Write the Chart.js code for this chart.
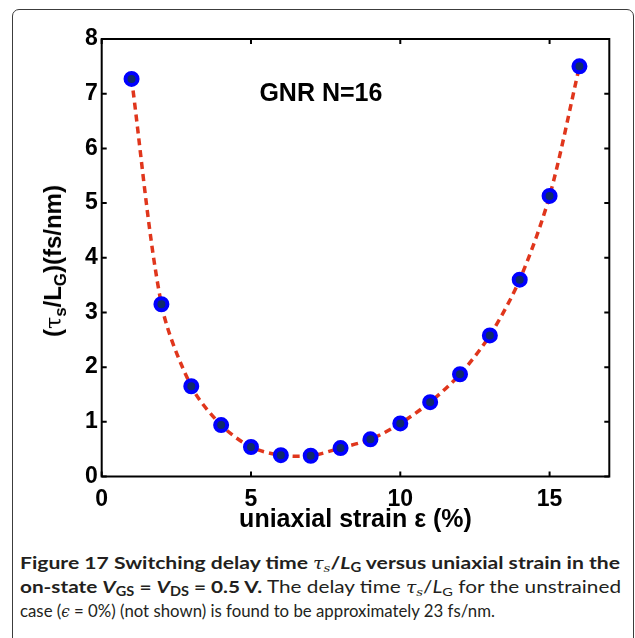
<!DOCTYPE html>
<html>
<head>
<meta charset="utf-8">
<script src="https://cdn.jsdelivr.net/npm/chart.js@4.4.1/dist/chart.umd.min.js"></script>
<style>
  html, body { margin: 0; padding: 0; background: #fff; }
  body { width: 635px; height: 638px; position: relative; overflow: hidden; font-family: "Liberation Sans", Arial, sans-serif; }
  #frame { position: absolute; left: 12px; top: 9px; width: 622px; height: 720px; border: 1px solid #3c3c3c; border-radius: 7px; box-sizing: border-box; }
  #wrap { position: absolute; left: 0; top: 0; width: 635px; height: 545px; }
  #ytitle { position: absolute; left: 53px; top: 261px; transform: translate(-50%, -50%) rotate(-90deg); white-space: nowrap; font-weight: bold; font-size: 24px; color: #000; }
  #ytitle .tau { font-family: "DejaVu Serif", serif; font-weight: normal; font-size: 22px; }
  #ytitle sub { font-size: 70%; vertical-align: -0.3em; line-height: 0; }
  #caption { position: absolute; left: 20px; top: 551px; font-family: Lato, "Open Sans", sans-serif; font-size: 17.5px; color: #231f20; }
  #caption .ln { white-space: nowrap; line-height: 24px; height: 24px; width: max-content; transform-origin: 0 50%; }
  #caption sub { font-size: 70%; vertical-align: -0.25em; line-height: 0; }
  #caption i { font-style: italic; }
  #caption .g { font-family: "DejaVu Serif", serif; font-style: italic; font-size: 90%; font-weight: normal; }
</style>
</head>
<body>
<div id="frame"></div>
<div id="wrap"><canvas id="c" width="635" height="545"></canvas></div>
<div id="ytitle">(<span class="tau">τ</span><sub>s</sub>/L<sub>G</sub>)(fs/nm)</div>
<div id="caption">
  <div class="ln" data-w="600"><b>Figure 17 Switching delay time <span class="g">τ<sub>s</sub></span>/<i>L</i><sub>G</sub> versus uniaxial strain in the</b></div>
  <div class="ln" data-w="601"><b>on-state <i>V</i><sub>GS</sub> = <i>V</i><sub>DS</sub> = 0.5 V.</b> The delay time <span class="g">τ<sub>s</sub></span>/<i>L</i><sub>G</sub> for the unstrained</div>
  <div class="ln" data-w="475">case (<span class="g">ϵ</span> = 0%) (not shown) is found to be approximately 23 fs/nm.</div>
</div>
<script>
// ---- data ----
const strain = [1, 2, 3, 4, 5, 6, 7, 8, 9, 10, 11, 12, 13, 14, 15, 16];
const delay  = [7.27, 3.15, 1.65, 0.94, 0.54, 0.39, 0.38, 0.52, 0.68, 0.97, 1.36, 1.87, 2.58, 3.60, 5.13, 7.50];
const xTicks = [0, 5, 10, 15];
const yTicks = [0, 1, 2, 3, 4, 5, 6, 7, 8];
const annotation = { text: 'GNR N=16', x: 7.34, y: 7.0 };
const xTitle = 'uniaxial strain ε (%)';

// fit caption lines to reference widths
document.querySelectorAll('#caption .ln').forEach(el => {
  const w = el.getBoundingClientRect().width;
  const target = +el.dataset.w;
  el.style.transform = 'scaleX(' + (target / w) + ')';
});

const boxPlugin = {
  id: 'boxPlugin',
  afterDraw(chart) {
    const { ctx, chartArea: a, scales: { x, y } } = chart;
    ctx.save();
    ctx.strokeStyle = '#000';
    ctx.lineWidth = 2;
    ctx.strokeRect(a.left, a.top, a.right - a.left, a.bottom - a.top);
    ctx.beginPath();
    x.ticks.forEach(t => {
      const px = x.getPixelForValue(t.value);
      ctx.moveTo(px, a.bottom); ctx.lineTo(px, a.bottom - 5);
      ctx.moveTo(px, a.top); ctx.lineTo(px, a.top + 5);
    });
    y.ticks.forEach(t => {
      const py = y.getPixelForValue(t.value);
      ctx.moveTo(a.left, py); ctx.lineTo(a.left + 5, py);
      ctx.moveTo(a.right, py); ctx.lineTo(a.right - 5, py);
    });
    ctx.stroke();
    ctx.restore();
  },
  afterDatasetsDraw(chart) {
    const { ctx, scales: { x, y } } = chart;
    ctx.save();
    ctx.font = 'bold 25px "Liberation Sans", Arial, sans-serif';
    ctx.fillStyle = '#000';
    ctx.textAlign = 'center';
    ctx.textBaseline = 'middle';
    ctx.fillText(annotation.text, x.getPixelForValue(annotation.x), y.getPixelForValue(annotation.y));
    ctx.restore();
  }
};

const tickFont = { family: '"Liberation Sans", Arial, sans-serif', size: 23, weight: 'bold' };

new Chart(document.getElementById('c'), {
  type: 'scatter',
  data: {
    datasets: [{
      data: strain.map((s, i) => ({ x: s, y: delay[i] })),
      showLine: true,
      borderColor: '#e0361c',
      borderWidth: 3.5,
      borderDash: [7, 5],
      tension: 0.3,
      pointRadius: 6,
      pointHoverRadius: 6,
      pointBorderWidth: 4,
      pointBackgroundColor: '#102b6a',
      pointBorderColor: '#0000ff'
    }]
  },
  options: {
    responsive: false,
    animation: false,
    events: [],
    layout: { padding: { left: 0, top: 39, right: 25.7, bottom: 0 } },
    plugins: { legend: { display: false }, tooltip: { enabled: false } },
    scales: {
      x: {
        type: 'linear', min: 0, max: 17,
        afterBuildTicks: s => { s.ticks = xTicks.map(v => ({ value: v })); },
        afterFit: s => { s.height = 68.5; },
        grid: { display: false, drawTicks: false },
        border: { display: false },
        ticks: { font: tickFont, color: '#000', padding: 9, maxRotation: 0 },
        title: { display: true, text: xTitle, color: '#000',
                 font: { family: '"Liberation Sans", Arial, sans-serif', size: 25, weight: 'bold' },
                 padding: { top: 0, bottom: 10 } }
      },
      y: {
        type: 'linear', min: 0, max: 8,
        afterBuildTicks: s => { s.ticks = yTicks.map(v => ({ value: v })); },
        afterFit: s => { s.width = 101.7; },
        grid: { display: false, drawTicks: false },
        border: { display: false },
        ticks: { font: tickFont, color: '#000', padding: 4 }
      }
    }
  },
  plugins: [boxPlugin]
});
</script>
</body>
</html>
